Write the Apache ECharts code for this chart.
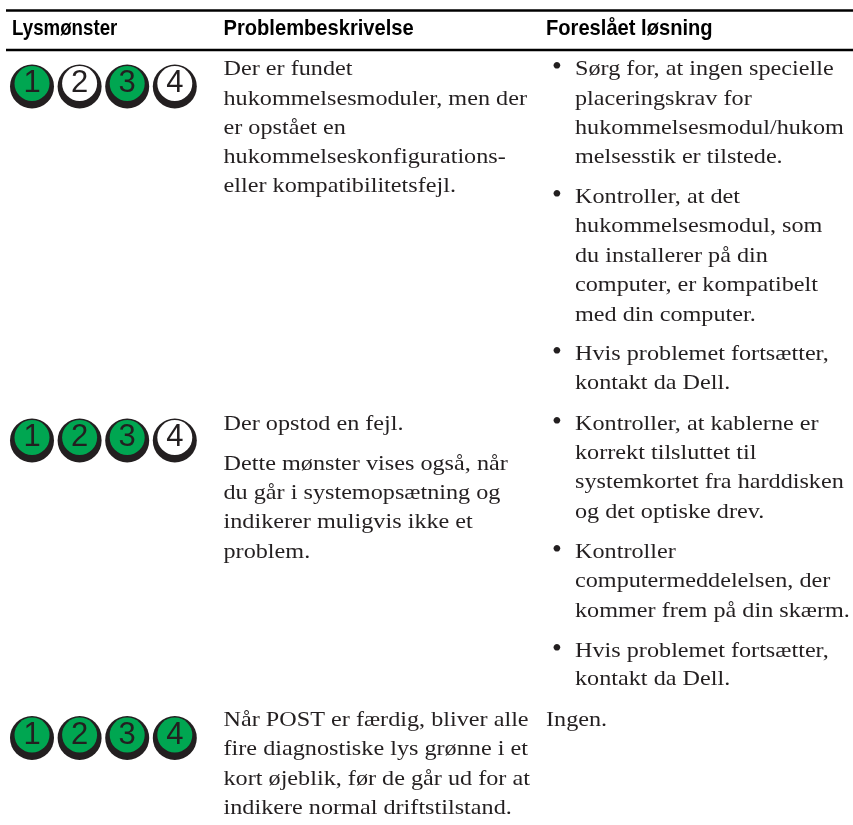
<!DOCTYPE html>
<html><head><meta charset="utf-8">
<style>html,body{margin:0;padding:0;background:#fff}#c{width:853px;height:825px}</style>
<script src="https://cdn.jsdelivr.net/npm/echarts@6/dist/echarts.min.js"></script>
</head><body><div id="c"></div>
<script>
const headers = ["Lysmønster", "Problembeskrivelse", "Foreslået løsning"];
const lightColumns = [1, 2, 3, 4];
const lightPatterns = [[1,0,1,0],[1,1,1,0],[1,1,1,1]];
const problemLines = [
 "Der er fundet","hukommelsesmoduler, men der","er opstået en","hukommelseskonfigurations-","eller kompatibilitetsfejl.",
 "Der opstod en fejl.","Dette mønster vises også, når","du går i systemopsætning og","indikerer muligvis ikke et","problem.",
 "Når POST er færdig, bliver alle","fire diagnostiske lys grønne i et","kort øjeblik, før de går ud for at","indikere normal driftstilstand."];
const solutionLines = [
 "Sørg for, at ingen specielle","placeringskrav for","hukommelsesmodul/hukom","melsesstik er tilstede.",
 "Kontroller, at det","hukommelsesmodul, som","du installerer på din","computer, er kompatibelt","med din computer.",
 "Hvis problemet fortsætter,","kontakt da Dell.",
 "Kontroller, at kablerne er","korrekt tilsluttet til","systemkortet fra harddisken","og det optiske drev.",
 "Kontroller","computermeddelelsen, der","kommer frem på din skærm.",
 "Hvis problemet fortsætter,","kontakt da Dell.",
 "Ingen."];
// layout
const rowCenters = [86.5, 440.5, 738];
const problemBase = [74,103.5,133,162,191,429,469,498,527,556.7,725,754,783.7,813];
const solutionBase = [74,103.5,133,162,201.7,231,260.7,290,319.5,359,388,429,457.7,487,516.7,556.7,585.7,615.7,655.7,684,725];
const bulletAt = [0,4,9,11,15,18];
const serif = "Liberation Serif", sans = "Liberation Sans";
const body = (t,x,y)=>({type:'text',x,y:y-15.5,scaleX:1.1,style:{text:t,x:0,y:0,font:`22px "${serif}"`,fill:'#231f20',verticalAlign:'top'}});
const g = [];
[10.5,50].forEach(y=>g.push({type:'rect',shape:{x:6,y:y-1.25,width:847,height:2.5},style:{fill:'#000'}}));
[12,223.5,546].forEach((x,i)=>g.push({type:'text',x,y:17.5,scaleX:i===0?0.85:0.915,style:{text:headers[i],x:0,y:0,font:`bold 22px "${sans}"`,fill:'#000',verticalAlign:'top'}}));
problemLines.forEach((t,i)=>g.push(body(t,223.5,problemBase[i])));
solutionLines.forEach((t,i)=>{
  const isLast = i===solutionLines.length-1;
  g.push(body(t,isLast?546:575,solutionBase[i]));
  if(bulletAt.includes(i)) g.push({type:'text',x:552,y:solutionBase[i]-20,style:{text:"•",x:0,y:0,font:`28px "${serif}"`,fill:'#231f20',verticalAlign:'top'}});
});
const pts = (fn)=>lightPatterns.flatMap((p,r)=>p.map((on,c)=>fn(lightColumns[c],rowCenters[r],on)));
const chart = echarts.init(document.getElementById('c'),null,{renderer:'canvas'});
chart.setOption({
 animation:false,backgroundColor:'#fff',
 grid:{left:32,top:0,width:142.8,height:825},
 xAxis:{type:'value',min:1,max:4,show:false},
 yAxis:{type:'value',min:0,max:825,inverse:true,show:false},
 series:[
  {type:'scatter',symbol:'circle',symbolSize:44,itemStyle:{color:'#231f20',opacity:1},data:pts((x,y)=>[x,y]),silent:true,z:2},
  {type:'scatter',symbol:'circle',symbolSize:35,symbolOffset:[0,-3],itemStyle:{opacity:1},
   data:pts((x,y,on)=>({value:[x,y],itemStyle:{color:on?'#00a651':'#fff'},
     label:{show:true,position:'inside',formatter:String(x),fontFamily:'Liberation Sans',fontSize:31,color:'#231f20'}})),silent:true,z:3}
 ],
 graphic:g
});
</script></body></html>
